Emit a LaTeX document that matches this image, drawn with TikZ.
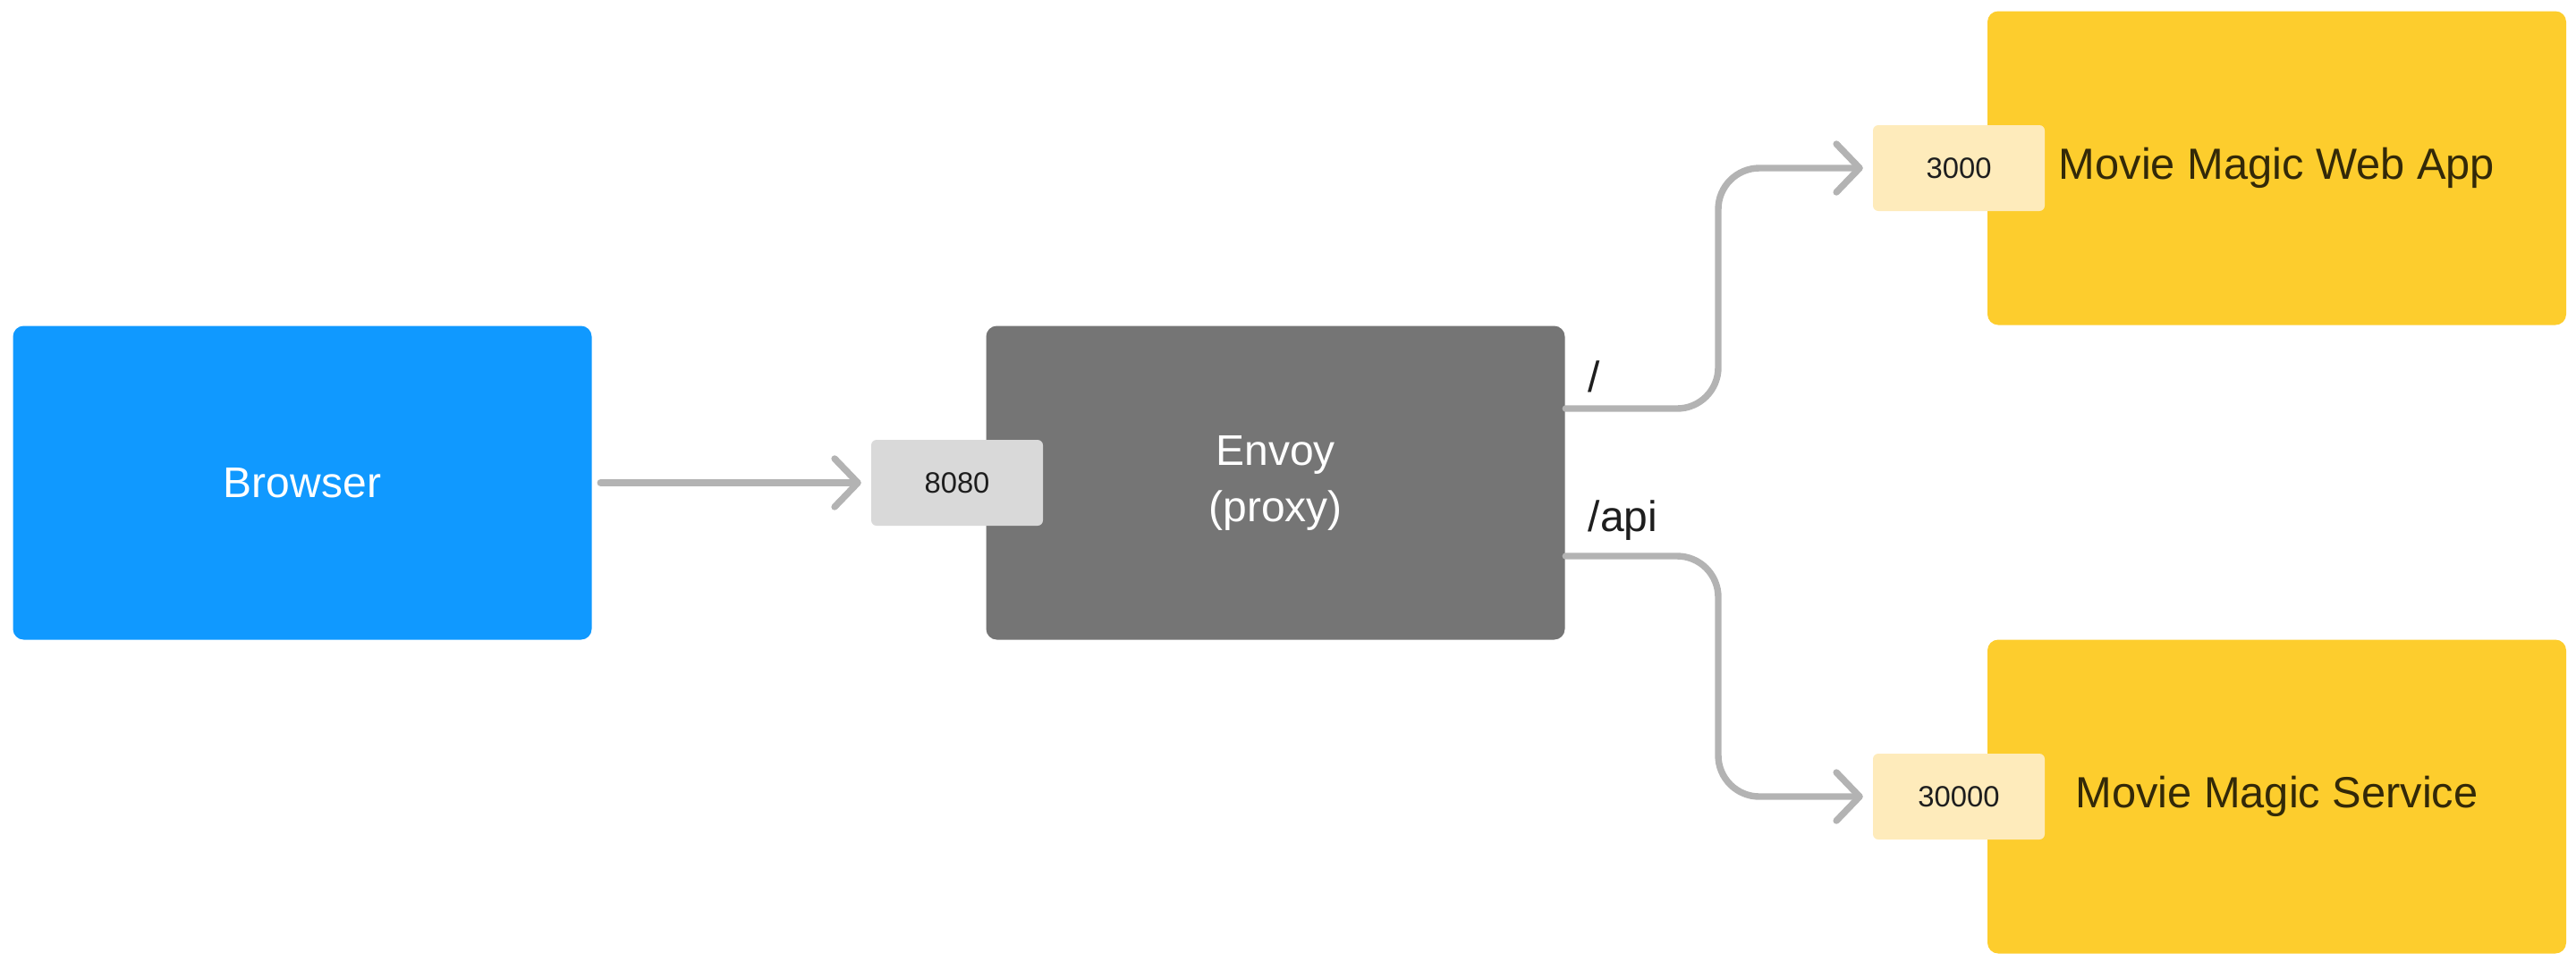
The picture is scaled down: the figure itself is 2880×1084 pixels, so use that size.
\documentclass[tikz,border=0pt]{standalone}
\usepackage{fontspec}
\setmainfont{Liberation Sans}
\usetikzlibrary{arrows.meta,calc}
\definecolor{cblue}{RGB}{16,153,255}
\definecolor{cgrey}{RGB}{117,117,117}
\definecolor{cyellow}{RGB}{253,205,45}
\definecolor{clight}{RGB}{254,235,187}
\definecolor{cport}{RGB}{217,217,217}
\definecolor{cline}{RGB}{179,179,179}
\definecolor{ctext}{RGB}{30,30,30}
\definecolor{cbrown}{RGB}{51,41,8}
\tikzset{
  bigbox/.style={rectangle, rounded corners=3pt, minimum width=161.75pt, minimum height=87.75pt, inner sep=0pt, font=\fontsize{12}{15.75}\selectfont, align=center},
  portbox/.style={rectangle, rounded corners=1.5pt, minimum width=48pt, minimum height=24pt, inner sep=0pt, font=\fontsize{8.2}{10}\selectfont, text=ctext},
  conn/.style={draw=cline, line width=1.85pt, line cap=round, line join=round, -{Straight Barb[length=6.5pt, width=13.5pt, round]}},
  route/.style={font=\fontsize{12}{14}\selectfont, text=ctext, inner sep=0pt, anchor=base west},
  apptitle/.style={font=\fontsize{12.2}{14}\selectfont, text=cbrown, inner sep=0pt}
}
\begin{document}
\begin{tikzpicture}[x=0.25pt, y=-0.25pt]
\useasboundingbox (0,0) rectangle (2880,1084);
% boxes
\node[bigbox, fill=cblue, text=white] (browser) at (338,540) {Browser};
\node[bigbox, fill=cgrey, text=white] (envoy) at (1426,540) {Envoy\\(proxy)};
\node[bigbox, fill=cyellow] (webapp) at (2545.5,188) {};
\node[bigbox, fill=cyellow] (service) at (2545.5,891) {};
% ports
\node[portbox, fill=cport] (p8080) at (1070,540) {8080};
\node[portbox, fill=clight] (p3000) at (2190,188) {3000};
\node[portbox, fill=clight] (p30000) at (2190,891) {30000};
% titles of app boxes
\node[apptitle] (webapptxt) at (webapp.center) {Movie Magic Web App};
\node[apptitle] (servicetxt) at (service.center) {Movie Magic Service};
% route labels
\node[route] (lroot) at (1775,438) {/};
\node[route] (lapi) at (1775,594) {/api};
% connector coordinates
\coordinate (b1) at ([xshift=2.25pt]browser.east);
\coordinate (s1) at ([yshift=20.75pt]envoy.east);
\coordinate (s2) at ([yshift=-20.5pt]envoy.east);
\coordinate (bend) at (1921,540);
% connectors
\draw[conn, shorten >=2.6pt] (b1) -- (p8080.west);
\draw[conn, rounded corners=11.5pt, shorten >=2.6pt] (s1) -- (s1 -| bend) -- (bend |- p3000.west) -- (p3000.west);
\draw[conn, rounded corners=11.5pt, shorten >=2.6pt] (s2) -- (s2 -| bend) -- (bend |- p30000.west) -- (p30000.west);
\end{tikzpicture}
\end{document}
